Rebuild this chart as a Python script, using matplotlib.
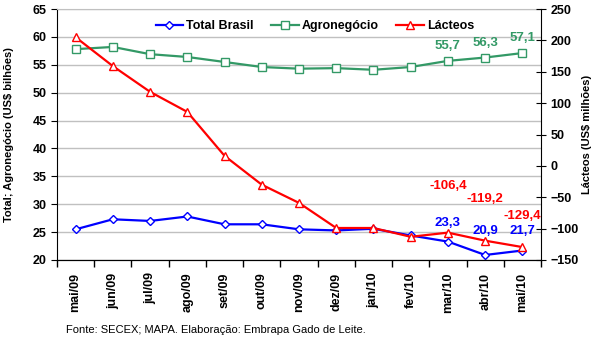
import numpy as np
import matplotlib
matplotlib.use('Agg')
import matplotlib.pyplot as plt

plt.rcParams['font.family'] = ['Liberation Sans', 'DejaVu Sans']

meses = ['mai/09', 'jun/09', 'jul/09', 'ago/09', 'set/09', 'out/09', 'nov/09',
         'dez/09', 'jan/10', 'fev/10', 'mar/10', 'abr/10', 'mai/10']
total_brasil = [25.5, 27.3, 27.0, 27.8, 26.4, 26.4, 25.5, 25.3, 25.6, 24.4, 23.3, 20.9, 21.7]
agronegocio = [57.8, 58.2, 56.9, 56.4, 55.5, 54.6, 54.3, 54.4, 54.1, 54.6, 55.7, 56.3, 57.1]
lacteos = [205, 159, 118, 86, 16, -30, -59, -99, -99, -113, -106.4, -119.2, -129.4]

azul = '#0000FF'
verde = '#339966'
vermelho = '#FF0000'

fig = plt.figure(figsize=(5.96, 3.39), dpi=100)
ax = fig.add_axes([57/596, 1-260/339, (541-57)/596, (260-9)/339])
ax2 = ax.twinx()

x = np.arange(len(meses))

ax.plot(x, total_brasil, color=azul, lw=1.6, marker='D', ms=4.5, mfc='white', mec=azul,
        mew=1, label='Total Brasil', zorder=3)
ax.plot(x, agronegocio, color=verde, lw=1.6, marker='s', ms=5.5, mfc='white', mec=verde,
        mew=1, label='Agronegócio', zorder=3)
ax2.plot(x, lacteos, color=vermelho, lw=1.6, marker='^', ms=6, mfc='white', mec=vermelho,
         mew=1, label='Lácteos', zorder=3)

ax.set_ylim(20, 65)
ax.set_yticks(np.arange(20, 66, 5))
ax2.set_ylim(-150, 250)
ax2.set_yticks(np.arange(-150, 251, 50))
ax.set_xlim(-0.5, 12.5)

ax.grid(axis='y', color='#c0c0c0', lw=1)
ax.set_axisbelow(True)

ax.set_xticks(x)
ax.set_xticklabels(meses, rotation=90, fontweight='bold', fontsize=9)
ax.set_xticks(np.arange(-0.5, 13, 1), minor=True)
ax.tick_params(axis='x', which='major', length=0, pad=9)
ax.tick_params(axis='x', which='minor', length=5, direction='out', width=1)
ax.tick_params(axis='y', direction='out', length=4, labelsize=9)
ax2.tick_params(axis='y', direction='inout', length=7, labelsize=9)
for lab in ax.get_yticklabels() + ax2.get_yticklabels():
    lab.set_fontweight('bold')

ax.spines['top'].set_color('#c0c0c0')
ax2.spines['top'].set_visible(False)
ax.spines['right'].set_visible(False)
ax2.spines['left'].set_visible(False)

ax.set_ylabel('Total; Agronegócio (US$ bilhões)', fontweight='bold', fontsize=8)
ax.yaxis.set_label_coords(-0.089, 0.5)
ax2.set_ylabel('Lácteos (US$ milhões)', fontweight='bold', fontsize=8)
ax2.yaxis.set_label_coords(1.085, 0.5)

# rótulos dos últimos meses
for i in [10, 11, 12]:
    ax.annotate(f'{agronegocio[i]:.1f}'.replace('.', ','), (x[i], agronegocio[i]),
                xytext=(0, 9), textcoords='offset pixels', ha='center', va='bottom',
                color=verde, fontweight='bold', fontsize=9.5)
desl_v = {10: 41, 11: 36, 12: 25}
desl_a = {10: 13, 11: 18, 12: 14}
for i in [10, 11, 12]:
    ax2.annotate(f'{lacteos[i]:.1f}'.replace('.', ','), (x[i], lacteos[i]),
                 xytext=(0, desl_v[i]), textcoords='offset pixels', ha='center', va='bottom',
                 color=vermelho, fontweight='bold', fontsize=9.5)
    ax.annotate(f'{total_brasil[i]:.1f}'.replace('.', ','), (x[i], total_brasil[i]),
                xytext=(0, desl_a[i]), textcoords='offset pixels', ha='center', va='bottom',
                color=azul, fontweight='bold', fontsize=9.5)

h1, l1 = ax.get_legend_handles_labels()
h2, l2 = ax2.get_legend_handles_labels()
leg = ax.legend(h1 + h2, l1 + l2, loc='upper center', bbox_to_anchor=(0.533, 1.0), ncol=3,
                frameon=False, handlelength=2.2, columnspacing=1.4,
                handletextpad=0.25, prop={'weight': 'bold', 'size': 9})

fig.text(66/596, 1-330/339, 'Fonte: SECEX; MAPA. Elaboração: Embrapa Gado de Leite.',
         fontsize=8, va='center', ha='left')

fig.savefig('out.png', dpi=100)
